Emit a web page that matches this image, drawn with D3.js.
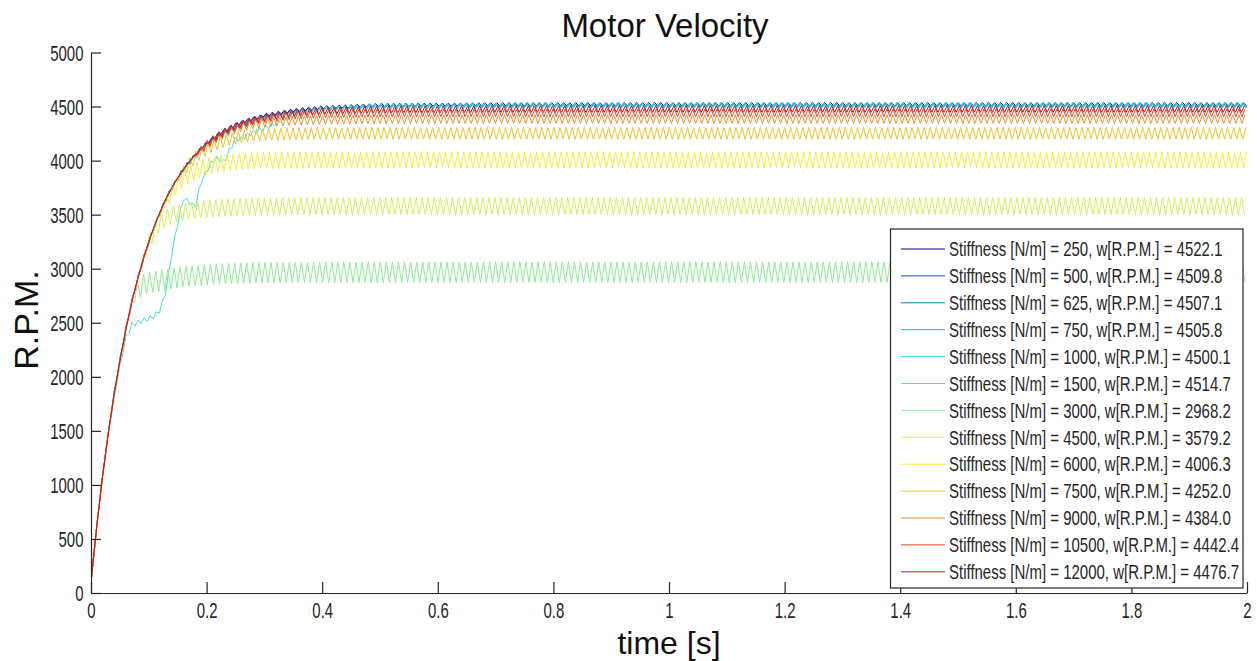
<!DOCTYPE html>
<html>
<head>
<meta charset="utf-8">
<script src="https://cdn.jsdelivr.net/npm/d3@7"></script>
<style>
  html, body { margin: 0; padding: 0; background: #ffffff; }
  svg { display: block; }
</style>
</head>
<body>
<div id="chart"></div>
<script>
// ---------------- data ----------------
const stiffness = [250, 500, 625, 750, 1000, 1500, 3000, 4500, 6000, 7500, 9000, 10500, 12000];
const legendRPM = [4522.1, 4509.8, 4507.1, 4505.8, 4500.1, 4514.7, 2968.2, 3579.2, 4006.3, 4252.0, 4384.0, 4442.4, 4476.7];
const seriesColors = ["#00008b", "#1050c0", "#0080d0", "#20b0d8", "#30d4e4", "#40e0d8", "#90ec98", "#d4f060", "#f8ee3c", "#f0c430", "#ec9030", "#e04420", "#d01020"];

const tGrid = [0, .01, .02, .03, .04, .05, .06, .07, .08, .09, .10, .11, .12, .13, .14, .15, .16, .17, .18, .19, .20,
               .21, .22, .23, .24, .25, .26, .27, .28, .29, .30, .35, .40, .50, .70, 1.0, 2.0];

const v250   = [100,620,1080,1480,1840,2150,2430,2680,2890,3080,3250,3400,3530,3650,3750,3840,3920,3990,4050,4110,4160,4200,4240,4270,4300,4330,4350,4370,4390,4400,4420,4465,4492,4515,4521,4522,4522];
const v500   = [100,620,1080,1480,1840,2150,2430,2680,2890,3080,3250,3400,3530,3650,3750,3840,3920,3990,4050,4105,4155,4195,4235,4265,4295,4325,4345,4365,4380,4395,4410,4455,4482,4503,4508,4510,4510];
const v625   = [100,620,1080,1480,1840,2150,2430,2680,2890,3080,3250,3400,3530,3650,3750,3840,3915,3985,4045,4100,4150,4190,4230,4260,4290,4320,4340,4360,4375,4390,4405,4452,4480,4500,4505,4507,4507];
const v750   = [100,620,1080,1480,1840,2150,2430,2680,2890,3080,3250,3395,3525,3645,3745,3835,3910,3980,4040,4095,4145,4185,4225,4255,4285,4315,4335,4355,4372,4388,4402,4450,4478,4499,4504,4506,4506];
const v1000  = [100,620,1080,1480,1840,2150,2430,2675,2885,3075,3245,3390,3520,3640,3740,3830,3905,3975,4035,4090,4140,4180,4220,4250,4280,4310,4330,4350,4368,4384,4398,4445,4474,4494,4499,4500,4500];
const v1500  = [100,620,1080,1480,1800,2100,2350,2480,2500,2520,2540,2560,2620,2800,3150,3420,3650,3620,3560,3800,3900,4000,4020,3980,4100,4200,4200,4230,4260,4280,4300,4420,4480,4505,4512,4514,4514];
const v3000  = [100,620,1080,1480,1840,2150,2430,2660,2800,2850,2870,2880,2890,2900,2910,2920,2925,2930,2935,2940,2945,2948,2950,2952,2954,2956,2958,2960,2961,2962,2963,2965,2966,2967,2968,2968,2968];
const v4500  = [100,620,1080,1480,1840,2150,2430,2680,2890,3080,3240,3360,3430,3470,3500,3515,3525,3535,3542,3548,3553,3557,3560,3563,3566,3568,3570,3572,3573,3574,3575,3577,3578,3579,3579,3579,3579];
const v6000  = [100,620,1080,1480,1840,2150,2430,2680,2890,3080,3250,3400,3520,3620,3710,3780,3830,3870,3900,3925,3945,3958,3968,3976,3983,3988,3992,3995,3997,3999,4000,4003,4005,4006,4006,4006,4006];
const v7500  = [100,620,1080,1480,1840,2150,2430,2680,2890,3080,3250,3400,3530,3650,3745,3830,3905,3970,4025,4070,4105,4135,4160,4180,4196,4208,4218,4226,4232,4237,4240,4247,4250,4252,4252,4252,4252];
const v9000  = [100,620,1080,1480,1840,2150,2430,2680,2890,3080,3250,3400,3530,3650,3750,3840,3915,3985,4045,4095,4140,4180,4215,4245,4270,4290,4308,4322,4334,4343,4350,4368,4376,4382,4384,4384,4384];
const v10500 = [100,620,1080,1480,1840,2150,2430,2680,2890,3080,3250,3400,3530,3650,3750,3840,3918,3988,4050,4102,4148,4190,4226,4258,4286,4310,4330,4348,4363,4376,4387,4420,4433,4440,4442,4442,4442];
const v12000 = [100,620,1080,1480,1840,2150,2430,2680,2890,3080,3250,3400,3530,3650,3750,3840,3920,3990,4050,4105,4155,4197,4234,4266,4294,4318,4338,4356,4372,4386,4398,4440,4460,4472,4476,4477,4477];

// ripple seen on every trace: half-height (R.P.M.), time it becomes visible (s), period (s)
const rippleAmp   = [15, 15, 15, 18, 18, 22, 95, 80, 75, 55, 40, 35, 30];
const rippleStart = [0.03, 0.03, 0.03, 0.03, 0.03, 0.05, 0.07, 0.09, 0.12, 0.15, 0.18, 0.18, 0.20];
const ripplePeriod = 0.0105;

const xTicks = [0, 0.2, 0.4, 0.6, 0.8, 1, 1.2, 1.4, 1.6, 1.8, 2];
const yTicks = [0, 500, 1000, 1500, 2000, 2500, 3000, 3500, 4000, 4500, 5000];

const seriesValues = [v250, v500, v625, v750, v1000, v1500, v3000, v4500, v6000, v7500, v9000, v10500, v12000];

// ---------------- layout ----------------
const W = 1257, H = 661;
const pLeft = 91, pRight = 1247, pTop = 52.5, pBottom = 593;
const sans = "'Liberation Sans', Arial, Helvetica, sans-serif";
const ink = "#262626";

const svg = d3.select("#chart").append("svg").attr("width", W).attr("height", H);

const x = d3.scaleLinear().domain([0, 2]).range([pLeft, pRight]);
const y = d3.scaleLinear().domain([0, 5000]).range([pBottom, pTop]);

svg.append("defs").append("clipPath").attr("id", "plotClip")
  .append("rect").attr("x", pLeft).attr("y", pTop - 2).attr("width", pRight - pLeft + 1).attr("height", pBottom - pTop + 2);

// ---------------- traces ----------------
const line = d3.line().x(d => x(d[0])).y(d => y(d[1])).curve(d3.curveLinear);
const gLines = svg.append("g").attr("clip-path", "url(#plotClip)");

seriesValues.forEach((vals, i) => {
  const mean = d3.scaleLinear().domain(tGrid).range(vals);
  const pts = [];
  tGrid.forEach((t, k) => { if (t < rippleStart[i]) pts.push([t, vals[k]]); });
  const half = ripplePeriod / 2;
  for (let k = 0; ; k++) {
    const t = rippleStart[i] + k * half;
    if (t > 2) break;
    const ramp = Math.min(1, (t - rippleStart[i]) / 0.02 + 0.3);
    pts.push([t, mean(t) + (k % 2 === 0 ? 1 : -1) * rippleAmp[i] * ramp]);
  }
  gLines.append("path")
    .attr("d", line(pts))
    .attr("fill", "none")
    .attr("stroke", seriesColors[i])
    .attr("stroke-width", 1);
});

// ---------------- axes ----------------
const fmt = d => String(+(+d).toFixed(1));
const yAxis = svg.append("g").attr("transform", `translate(${pLeft},0)`)
  .call(d3.axisLeft(y).tickValues(yTicks).tickSizeInner(-10).tickSizeOuter(0).tickFormat(fmt));
const xAxis = svg.append("g").attr("transform", `translate(0,${pBottom})`)
  .call(d3.axisBottom(x).tickValues(xTicks).tickSizeInner(-11).tickSizeOuter(0).tickFormat(fmt));

const tickSX = 0.68;
[yAxis, xAxis].forEach(g => {
  g.select(".domain").attr("stroke", ink).attr("stroke-width", 1.2);
  g.selectAll(".tick line").attr("stroke", ink).attr("stroke-width", 1.2);
  g.selectAll(".tick text").attr("fill", ink).style("font-family", sans).style("font-size", "22px");
});
yAxis.selectAll(".tick text").attr("x", -7.5 / tickSX).attr("dy", "0.36em").attr("transform", `scale(${tickSX},1)`);
xAxis.selectAll(".tick text").attr("y", 25).attr("dy", 0).attr("transform", `scale(${tickSX},1)`);

// ---------------- titles ----------------
svg.append("text").attr("x", (pLeft + pRight) / 2 - 4).attr("y", 37)
  .attr("text-anchor", "middle").attr("fill", "#111")
  .style("font-family", sans).style("font-size", "33px")
  .text("Motor Velocity");
svg.append("text").attr("x", (pLeft + pRight) / 2).attr("y", 654)
  .attr("text-anchor", "middle").attr("fill", "#111")
  .style("font-family", sans).style("font-size", "32px")
  .text("time [s]");
svg.append("text").attr("transform", `translate(38,320) rotate(-90)`)
  .attr("text-anchor", "middle").attr("fill", "#111")
  .style("font-family", sans).style("font-size", "34px")
  .text("R.P.M.");

// ---------------- legend ----------------
const lg = svg.append("g");
const lgX = 890.5, lgY = 229, lgW = 352.5, lgH = 359;
const rowY0 = 249, rowStep = 26.9;
const legSX = 0.75;
lg.append("rect").attr("x", lgX).attr("y", lgY).attr("width", lgW).attr("height", lgH)
  .attr("fill", "#fff").attr("stroke", ink).attr("stroke-width", 1.2);
stiffness.forEach((s, i) => {
  const yy = rowY0 + i * rowStep;
  lg.append("line").attr("x1", 901).attr("x2", 945).attr("y1", yy).attr("y2", yy)
    .attr("stroke", seriesColors[i]).attr("stroke-width", 1);
  lg.append("text")
    .attr("transform", `translate(949,${yy}) scale(${legSX},1)`)
    .attr("dy", "0.36em").attr("fill", ink)
    .style("font-family", sans).style("font-size", "20px")
    .text(`Stiffness [N/m] = ${s}, w[R.P.M.] = ${legendRPM[i].toFixed(1)}`);
});
</script>
</body>
</html>
